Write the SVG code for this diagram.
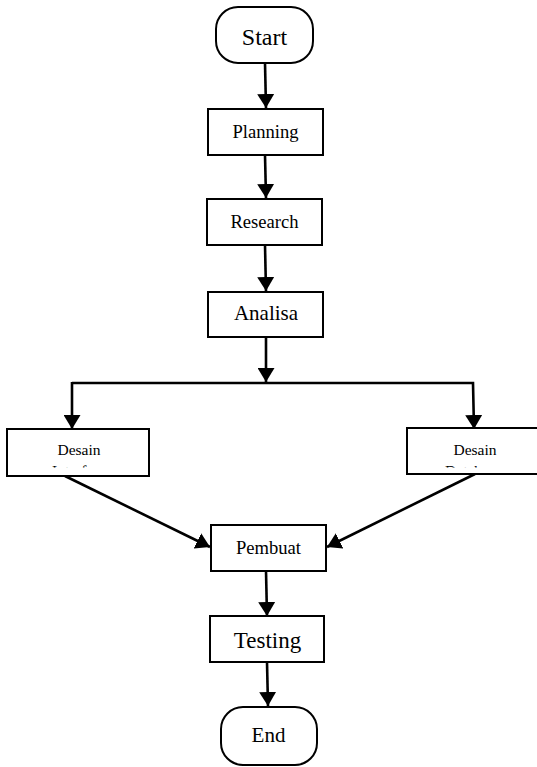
<svg xmlns="http://www.w3.org/2000/svg" width="537" height="767" viewBox="0 0 537 767">
  <style>
    .box { fill: #fff; stroke: #000; stroke-width: 2; }
    .txt { font-family: "Liberation Serif", "Times New Roman", serif; fill: #000; text-anchor: middle; }
    .s18 { font-size: 18.6px; }
    .s15 { font-size: 15.5px; }
    .s21 { font-size: 21px; }
    .s23 { font-size: 23px; }
    .s24 { font-size: 24px; }
    .edge { fill: none; stroke: #000; stroke-width: 2.6; }
  </style>
  <defs>
    <marker id="arrow" viewBox="0 0 14 17" refX="14" refY="8.5" markerWidth="14" markerHeight="17" markerUnits="userSpaceOnUse" orient="auto">
      <path d="M0,0 L14,8.5 L0,17 Z" fill="#000"/>
    </marker>
    <clipPath id="clipLeft"><rect x="8" y="430" width="140" height="37.5"/></clipPath>
    <clipPath id="clipRight"><rect x="408" y="429" width="130" height="38.5"/></clipPath>
  </defs>
  <rect width="537" height="767" fill="#fff"/>

  <g id="connectors">
    <line class="edge" x1="265" y1="63" x2="266" y2="108" marker-end="url(#arrow)"/>
    <line class="edge" x1="265" y1="155" x2="266" y2="198" marker-end="url(#arrow)"/>
    <line class="edge" x1="265" y1="245" x2="266" y2="291" marker-end="url(#arrow)"/>
    <line class="edge" x1="266" y1="337" x2="266" y2="382" marker-end="url(#arrow)"/>
    <polyline class="edge" points="72,383 473,383 474,429" marker-end="url(#arrow)"/>
    <line class="edge" x1="72" y1="382" x2="72" y2="429" marker-end="url(#arrow)"/>
    <line class="edge" x1="65" y1="476" x2="210" y2="547" marker-end="url(#arrow)"/>
    <line class="edge" x1="475" y1="474" x2="327" y2="547" marker-end="url(#arrow)"/>
    <line class="edge" x1="266" y1="571" x2="267" y2="616" marker-end="url(#arrow)"/>
    <line class="edge" x1="267" y1="662" x2="268" y2="706" marker-end="url(#arrow)"/>
  </g>

  <g id="start">
    <rect class="box" x="216" y="7" width="97" height="56" rx="22" ry="22"/>
    <text class="txt s24" x="264.5" y="45">Start</text>
  </g>
  <g id="planning">
    <rect class="box" x="208" y="109" width="115" height="46"/>
    <text class="txt s18" x="265.5" y="138">Planning</text>
  </g>
  <g id="research">
    <rect class="box" x="207" y="199" width="115" height="46"/>
    <text class="txt s18" x="264.5" y="228">Research</text>
  </g>
  <g id="analisa">
    <rect class="box" x="208" y="292" width="115" height="45"/>
    <text class="txt s21" x="266" y="320">Analisa</text>
  </g>
  <g id="desain-interface">
    <rect class="box" x="7" y="429" width="142" height="47"/>
    <g clip-path="url(#clipLeft)">
      <text class="txt s15" x="79" y="455">Desain</text>
      <text class="txt s15" x="79.5" y="475.5">Interface</text>
    </g>
  </g>
  <g id="desain-database">
    <rect class="box" x="407" y="428" width="140" height="46"/>
    <g clip-path="url(#clipRight)">
      <text class="txt s15" x="475" y="455">Desain</text>
      <text class="txt s15" x="473.5" y="475.5">Database</text>
    </g>
  </g>
  <g id="pembuat">
    <rect class="box" x="211" y="525" width="115" height="46"/>
    <text class="txt s18" x="268.5" y="554">Pembuat</text>
  </g>
  <g id="testing">
    <rect class="box" x="210" y="616" width="114" height="46"/>
    <text class="txt s23" x="267.5" y="648">Testing</text>
  </g>
  <g id="end">
    <rect class="box" x="221" y="707" width="96" height="58" rx="22" ry="22"/>
    <text class="txt s21" x="268.5" y="742">End</text>
  </g>
</svg>
